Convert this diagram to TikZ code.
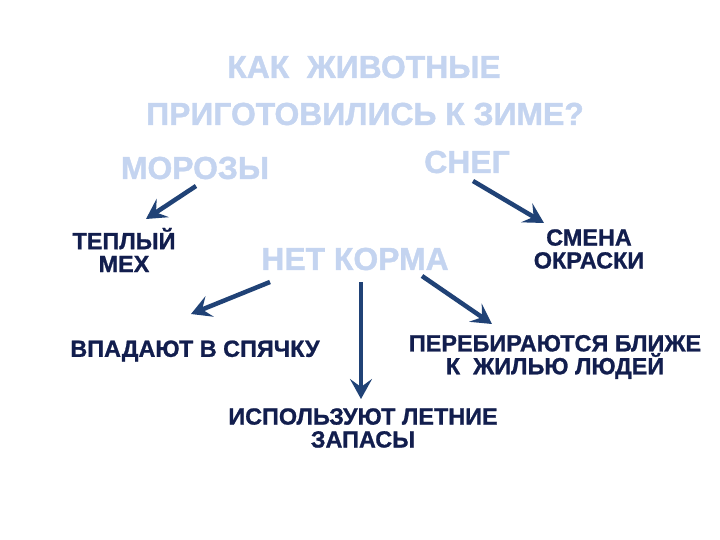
\documentclass[tikz,border=0pt]{standalone}
\usepackage{fontspec}
\setmainfont{Liberation Sans}
\newfontfamily\hb[FakeBold=1.2]{Liberation Sans Bold}
\newfontfamily\hd[FakeBold=1.0]{Liberation Sans Bold}
\usetikzlibrary{arrows.meta}
\definecolor{lightb}{RGB}{196,212,240}
\definecolor{darkt}{RGB}{18,30,78}
\definecolor{arr}{RGB}{32,66,118}
\tikzset{
  title/.style={text=lightb,font=\hb\fontsize{32}{47}\selectfont,align=center,inner sep=0pt},
  cause/.style={text=lightb,font=\hb\fontsize{32}{36}\selectfont,inner sep=0pt},
  result/.style={text=darkt,font=\hd\fontsize{23.5}{23}\selectfont,align=center,inner sep=0pt},
  arrw/.style={draw=arr,line width=4.5bp,-{Stealth[length=20bp,width=22bp,inset=8bp]}}
}
\begin{document}
\begin{tikzpicture}[x=1bp,y=-1bp]
\useasboundingbox[fill=white] (0,0) rectangle (720,540);
\node[title] (t1) at (364,67) {КАК\ \ ЖИВОТНЫЕ};
\node[title] (t2) at (365,114) {ПРИГОТОВИЛИСЬ К ЗИМЕ?};
\node[cause] (moroz) at (195,168) {МОРОЗЫ};
\node[cause] (sneg) at (467,162) {СНЕГ};
\node[cause] (korm) at (355,259) {НЕТ КОРМА};
\node[result] (mex) at (124,250) {ТЕПЛЫЙ\\МЕХ};
\node[result] (okr) at (589,249) {СМЕНА\\ОКРАСКИ};
\node[result] (spyach) at (195,351) {ВПАДАЮТ В СПЯЧКУ};
\node[result] (blizhe) at (555,357) {ПЕРЕБИРАЮТСЯ БЛИЖЕ\\К\ \ ЖИЛЬЮ ЛЮДЕЙ};
\node[result] (zapas) at (363,428) {ИСПОЛЬЗУЮТ ЛЕТНИЕ\\ЗАПАСЫ};
\coordinate (a1s) at (196,186); \coordinate (a1e) at (146,219);
\coordinate (a2s) at (473,181); \coordinate (a2e) at (544,223);
\coordinate (a3s) at (270,282); \coordinate (a3e) at (191,314);
\coordinate (a4s) at (361,282); \coordinate (a4e) at (361,399);
\coordinate (a5s) at (422,276); \coordinate (a5e) at (492,324);
\draw[arrw] (a1s) -- (a1e);
\draw[arrw] (a2s) -- (a2e);
\draw[arrw] (a3s) -- (a3e);
\draw[arrw] (a4s) -- (a4e);
\draw[arrw] (a5s) -- (a5e);
\end{tikzpicture}
\end{document}
